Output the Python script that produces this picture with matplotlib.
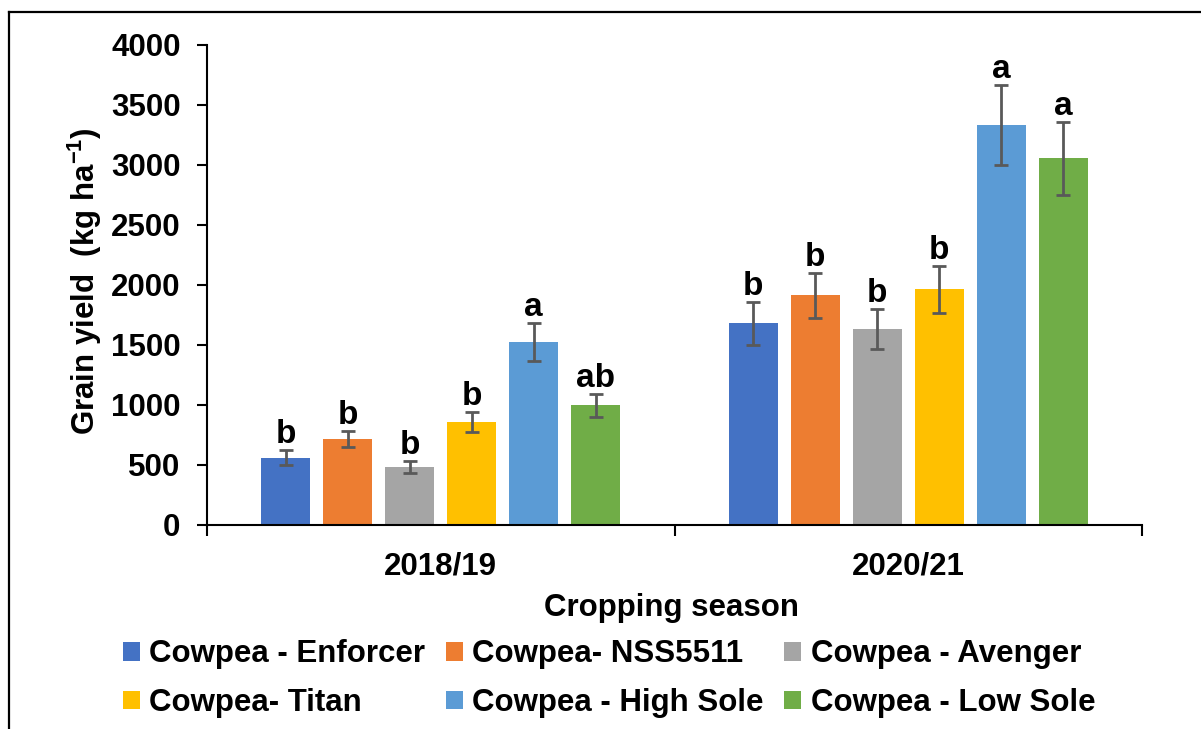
import numpy as np
import matplotlib
matplotlib.use('Agg')
import matplotlib.pyplot as plt
from matplotlib.lines import Line2D
from matplotlib.patches import Patch

plt.rcParams['font.family'] = ['Liberation Sans', 'DejaVu Sans']
plt.rcParams['font.weight'] = 'bold'
plt.rcParams['mathtext.fontset'] = 'custom'
plt.rcParams['mathtext.rm'] = 'Liberation Sans:bold'
plt.rcParams['mathtext.bf'] = 'Liberation Sans:bold'

# data
seasons = ['2018/19', '2020/21']
names = ['Cowpea - Enforcer', 'Cowpea- NSS5511', 'Cowpea - Avenger',
         'Cowpea- Titan', 'Cowpea - High Sole', 'Cowpea - Low Sole']
enforcer = [560, 1680]
nss5511 = [717, 1914]
avenger = [483, 1633]
titan = [856, 1964]
high_sole = [1525, 3331]
low_sole = [997, 3056]
enforcer_se = [62, 180]
nss5511_se = [70, 190]
avenger_se = [48, 168]
titan_se = [85, 195]
high_sole_se = [155, 335]
low_sole_se = [93, 302]
letters_1819 = ['b', 'b', 'b', 'b', 'a', 'ab']
letters_2021 = ['b', 'b', 'b', 'b', 'a', 'a']

colors = ['#4472C4', '#ED7D31', '#A5A5A5', '#FFC000', '#5B9BD5', '#70AD47']

means = [enforcer, nss5511, avenger, titan, high_sole, low_sole]
errs = [enforcer_se, nss5511_se, avenger_se, titan_se, high_sole_se, low_sole_se]
letters = list(zip(letters_1819, letters_2021))

fs = 22.5

fig = plt.figure(figsize=(12.01, 7.29), dpi=100)
ax = fig.add_axes([207/1201, 1-525/729, 935/1201, 480/729])

x = np.arange(len(seasons))
step = 0.1326
w = 0.105
for k in range(6):
    pos = x + (k - 2.5) * step
    ax.bar(pos, means[k], w, color=colors[k], zorder=2)
    ax.errorbar(pos, means[k], yerr=errs[k], fmt='none', ecolor='#595959',
                elinewidth=2, capsize=5, capthick=2, zorder=3)
    for j in range(len(seasons)):
        ax.annotate(letters[k][j], (pos[j], means[k][j] + errs[k][j]),
                    xytext=(0, 0), textcoords='offset points',
                    ha='center', va='bottom', fontsize=24, fontweight='bold')

ax.set_xlim(-0.5, 1.5)
ax.set_ylim(0, 4000)
ax.set_yticks(np.arange(0, 4001, 500))
ax.tick_params(axis='y', labelsize=fs, length=7, width=1.5, pad=12)
ax.set_xticks(x)
ax.set_xticklabels(seasons)
ax.set_xticks([-0.5, 0.5, 1.5], minor=True)
ax.tick_params(axis='x', which='major', length=0, labelsize=fs, pad=19)
ax.tick_params(axis='x', which='minor', length=8, width=1.5)
for lab in ax.get_xticklabels() + ax.get_yticklabels():
    lab.set_fontweight('bold')
ax.spines['top'].set_visible(False)
ax.spines['right'].set_visible(False)
ax.spines['left'].set_linewidth(1.5)
ax.spines['bottom'].set_linewidth(1.5)

fig.text(0.0708, 0.615, r'Grain yield  (kg ha$^{\mathbf{-1}}$)', rotation=90,
         ha='center', va='center', fontsize=fs, fontweight='bold')
fig.text(672/1201, 1-608/729, 'Cropping season', ha='center', va='center',
         fontsize=fs, fontweight='bold')

# legend fills by column, so reorder to read row by row
order = [0, 3, 1, 4, 2, 5]
handles = [Patch(facecolor=colors[i]) for i in order]
labels = [names[i] for i in order]
fig.legend(handles, labels, loc='center', bbox_to_anchor=(0.507, 0.069), ncol=3,
           frameon=False, handlelength=0.55, handleheight=0.55,
           handletextpad=0.3, columnspacing=0.65, labelspacing=0.6,
           prop={'weight': 'bold', 'size': fs})

# frame around figure (cropped)
fig.add_artist(Line2D([9/1201, 9/1201], [0, 1-12/729], transform=fig.transFigure,
                      color='black', lw=1.6))
fig.add_artist(Line2D([9/1201, 1], [1-12/729, 1-12/729], transform=fig.transFigure,
                      color='black', lw=1.6))

fig.savefig('out.png', dpi=100)
